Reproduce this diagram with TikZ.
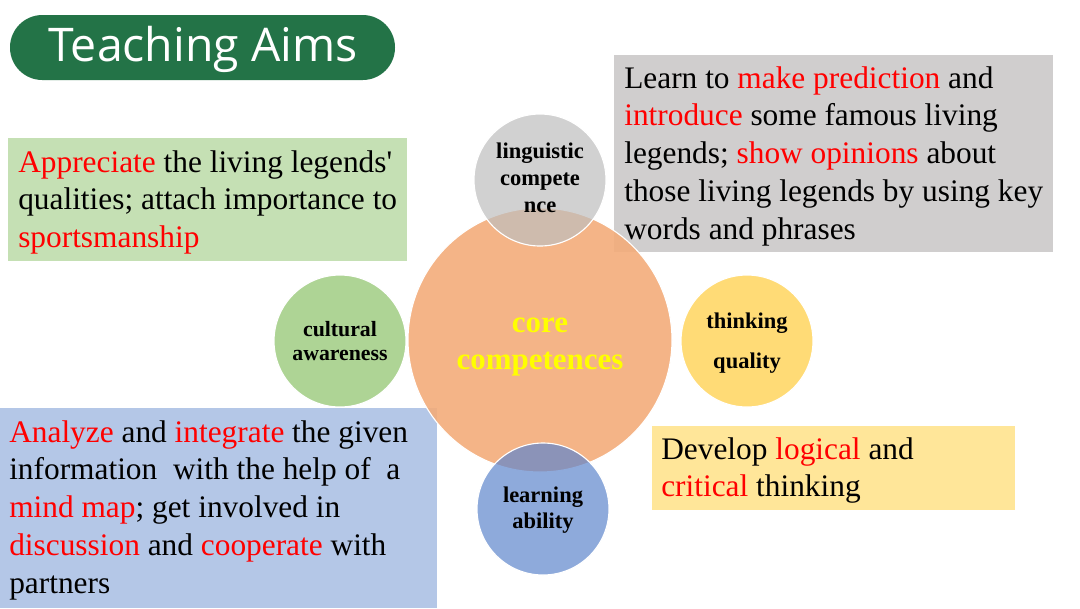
\documentclass[tikz,border=0pt]{standalone}
\usepackage{fontspec}
\setmainfont{Liberation Serif}
\newfontfamily\titlefont{Open Sans}
\definecolor{titlegreen}{RGB}{35,115,71}
\definecolor{boxgreen}{RGB}{197,224,180}
\definecolor{boxgrey}{RGB}{208,206,206}
\definecolor{boxblue}{RGB}{180,199,231}
\definecolor{boxyellow}{RGB}{255,230,153}
\definecolor{corefill}{RGB}{243,172,122}
\definecolor{lingfill}{RGB}{190,190,190}
\definecolor{cultfill}{RGB}{141,194,105}
\definecolor{thinkfill}{RGB}{255,204,60}
\definecolor{learnfill}{RGB}{95,134,205}
\definecolor{corered}{RGB}{255,0,0}
\definecolor{coreyellow}{RGB}{255,255,0}
\newcommand\redw[1]{\textcolor{corered}{#1}}
\tikzset{
  bodytext/.style={anchor=north west, inner sep=0pt, align=left, font=\fontsize{22.3}{26.8}\selectfont},
  circlabel/.style={anchor=north, inner sep=0pt, align=center},
  ring/.style={draw=white, line width=0.8pt, fill opacity=0.7},
}
\begin{document}
\begin{tikzpicture}[x=0.025cm,y=-0.025cm]
\useasboundingbox (0,0) rectangle (1080,608);
\fill[white] (0,0) rectangle (1080,608);
% title
\fill[titlegreen, rounded corners=23pt] (10,15) rectangle (395,80);
\node[text=white, font=\titlefont\fontsize{33}{40}\selectfont, inner sep=0pt] (title) at (203,49) {Teaching Aims};
% boxes
\fill[boxgreen] (8,138) rectangle (407,261);
\fill[boxgrey] (614,55) rectangle (1053,252);
\fill[boxblue] (0,408) rectangle (437,608);
\fill[boxyellow] (652,426) rectangle (1015,510);
% circles
\path[draw=white, line width=0.8pt, fill=corefill, fill opacity=0.9] (540,340) circle (132);
\path[ring, fill=lingfill] (540,180) circle (66);
\path[ring, fill=cultfill] (340,341) circle (66);
\path[ring, fill=thinkfill] (747,341) circle (66);
\path[ring, fill=learnfill] (543,509) circle (66);
% box texts
\node[bodytext] (aimgreen) at (18,145.6) {\strut\redw{Appreciate} the living legends\textquotesingle\\qualities; attach importance to\\\redw{sportsmanship}};
\node[bodytext] (aimgrey) at (624,61.6) {\strut Learn to \redw{make prediction} and\\\redw{introduce} some famous living\\legends; \redw{show opinions} about\\those living legends by using key\\words and phrases};
\node[bodytext] (aimblue) at (9,415.6) {\strut\redw{Analyze} and \redw{integrate} the given\\information\ \ with the help of\ \ a\\\redw{mind map}; get involved in\\\redw{discussion} and \redw{cooperate} with\\partners};
\node[bodytext] (aimyellow) at (661,432.6) {\strut Develop \redw{logical} and\\\redw{critical} thinking};
% circle labels
\node[circlabel, font=\bfseries\fontsize{16}{19.2}\selectfont] (ling) at (540,139) {\strut linguistic\\compete\\nce};
\node[circlabel, font=\bfseries\fontsize{15.5}{17.1}\selectfont] (cult) at (340,319) {\strut cultural\\awareness};
\node[circlabel, font=\bfseries\fontsize{16}{28.5}\selectfont] (think) at (747,300) {\strut thinking\\quality};
\node[circlabel, font=\bfseries\fontsize{16}{18.5}\selectfont] (learn) at (543,484) {\strut learning\\ability};
\node[circlabel, text=coreyellow, font=\bfseries\fontsize{22}{26.3}\selectfont] (core) at (540,306) {\strut core\\competences};
\end{tikzpicture}
\end{document}
